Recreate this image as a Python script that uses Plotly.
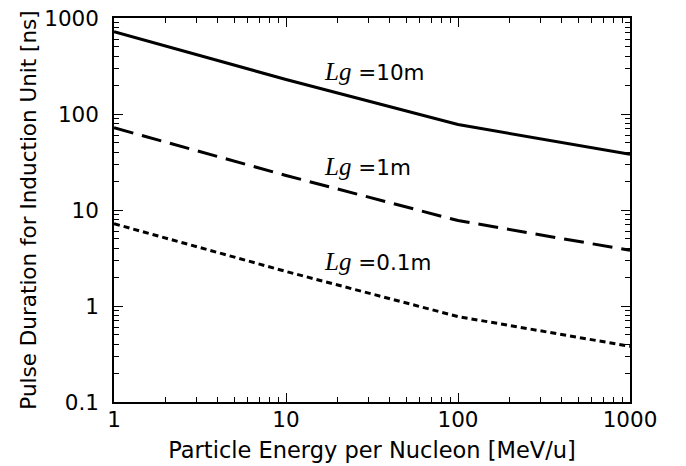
import plotly.graph_objects as go

energy = [1, 10, 100, 1000]
t_10m = [719, 229, 77.6, 38.0]
t_1m = [71.9, 22.9, 7.76, 3.80]
t_01m = [7.19, 2.29, 0.776, 0.380]

x_tickvals = [1, 10, 100, 1000]
x_ticktext = ["1", "10", "100", "1000"]
y_tickvals = [0.1, 1, 10, 100, 1000]
y_ticktext = ["0.1", "1", "10", "100", "1000"]

x_minor = [m * d for d in [1, 10, 100] for m in range(2, 10)]
y_minor = [m * d for d in [0.1, 1, 10, 100] for m in range(2, 10)]

labels = ["=10m", "=1m", "=0.1m"]
label_x = [1.21, 1.21, 1.21]
label_y = [2.44, 1.45, 0.46]

FONT = "DejaVu Sans"
FS = 21.5

fig = go.Figure()
fig.add_trace(go.Scatter(x=energy, y=t_10m, mode="lines",
                         line=dict(color="black", width=3)))
fig.add_trace(go.Scatter(x=energy, y=t_1m, mode="lines",
                         line=dict(color="black", width=3, dash="20px,9px")))
fig.add_trace(go.Scatter(x=energy, y=t_01m, mode="lines",
                         line=dict(color="black", width=3, dash="6px,4px")))

for txt, lx, ly in zip(labels, label_x, label_y):
    fig.add_annotation(
        x=lx, y=ly, xref="x", yref="y", xanchor="left", yanchor="middle",
        showarrow=False,
        text="<span style=\"font-family:'Liberation Serif';font-style:italic;font-size:25px\">L</span>"
             "<span style=\"font-family:'Liberation Serif';font-style:italic;font-size:25px\">g</span> " + txt,
        font=dict(family=FONT, size=FS, color="black"),
    )

axis_common = dict(
    type="log", showgrid=False, zeroline=False, automargin=False,
    showline=True, linecolor="black", linewidth=1.5, mirror="allticks",
    ticks="inside", ticklen=9, tickwidth=1.2, tickcolor="black",
    tickfont=dict(family=FONT, size=FS, color="black"),
    ticklabeloverflow="allow",
)

fig.update_xaxes(**axis_common, range=[0, 3], tickvals=x_tickvals, ticktext=x_ticktext,
                 minor=dict(tickvals=x_minor, ticks="inside", ticklen=5, tickwidth=1,
                            tickcolor="black", showgrid=False),
                 title=dict(text="Particle Energy per Nucleon [MeV/u]",
                            font=dict(family=FONT, size=22.5, color="black"),
                            standoff=12),
                 ticklabelstandoff=-3)
fig.update_yaxes(**axis_common, range=[-1, 3], tickvals=y_tickvals, ticktext=y_ticktext,
                 minor=dict(tickvals=y_minor, ticks="inside", ticklen=5, tickwidth=1,
                            tickcolor="black", showgrid=False),
                 title=dict(text="Pulse Duration for Induction Unit [ns]",
                            font=dict(family=FONT, size=FS, color="black"),
                            standoff=2),
                 ticklabelstandoff=9)

fig.update_layout(
    width=686, height=466,
    margin=dict(l=114, r=56, t=18, b=64),
    paper_bgcolor="white", plot_bgcolor="white",
    showlegend=False,
)

# remove the browser's default 8px body margin so the figure fills the window exactly
fig.write_html("out.html", config={"displayModeBar": False},
               post_script="document.body.style.margin='0px';")
